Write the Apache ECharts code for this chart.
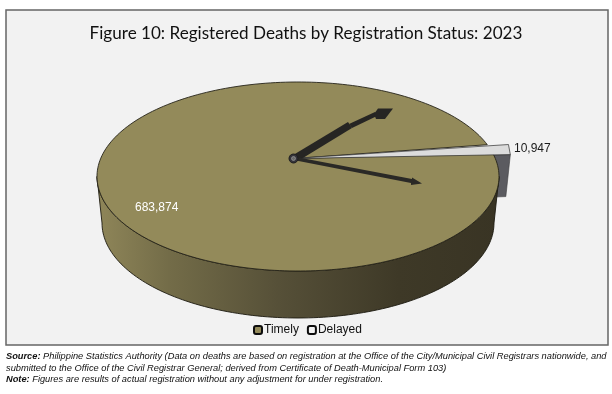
<!DOCTYPE html>
<html><head><meta charset="utf-8">
<style>html,body{margin:0;padding:0;background:#fff}#c{width:612px;height:394px}</style>
<script src="https://cdn.jsdelivr.net/npm/echarts@6/dist/echarts.min.js"></script>
</head><body><div id="c"></div>
<script>
const categories = ['Timely', 'Delayed'];
const values = [683874, 10947];
const titleText = 'Figure 10: Registered Deaths by Registration Status: 2023';

const total = values[0] + values[1];
const sweep = v => v / total * Math.PI * 2;
const fmt = v => v.toLocaleString('en-US');

// layout of the tilted pie
const TOP = {cx: 298, cy: 176.5, rx: 201, ry: 94.5};
const BASE = {cx: 298, cy: 223, rx: 196, ry: 95};
const HUB = [293.5, 158.5];
const SLICE = {rx: 217, ry: 102, start: 2.2 * Math.PI / 180, depth: 42};
const NOTCH = 14 * Math.PI / 180;

const onEllipse = (e, t) => [e.cx + e.rx * Math.cos(t), e.cy - e.ry * Math.sin(t)];
const arc = (e, a, b, n) => {
  const pts = [];
  for (let i = 0; i <= n; i++) pts.push(onEllipse(e, a + (b - a) * i / n));
  return pts;
};

const wallFill = new echarts.graphic.LinearGradient(97, 0, 499, 0, [
  {offset: 0, color: '#8f8659'},
  {offset: 0.18, color: '#736c48'},
  {offset: 0.45, color: '#565038'},
  {offset: 0.75, color: '#3e3927'},
  {offset: 1, color: '#393424'}
], true);

function renderTimely(params, api) {
  const v = api.value(0);
  const s = sweep(v);
  const gap = Math.PI * 2 - s;
  const start = NOTCH + gap;
  const top = arc(TOP, start, start + s, 240);
  const wallTop = arc(TOP, Math.PI, 2 * Math.PI, 120);
  const wallBase = arc(BASE, 2 * Math.PI, Math.PI, 120);
  return {type: 'group', children: [
    {type: 'polygon', shape: {points: wallTop.concat(wallBase)},
      style: {fill: wallFill, stroke: '#1c1a10', lineWidth: 0.9}},
    {type: 'polygon', shape: {points: [HUB].concat(top)},
      style: {fill: '#938a5a', stroke: '#26241a', lineWidth: 0.9}},
    {type: 'text', style: {text: fmt(v), x: 135, y: 208, fill: '#ffffff',
      font: '12px "Liberation Sans"', verticalAlign: 'middle'}}
  ]};
}

function sliceEnds(v) {
  const e = {cx: HUB[0], cy: HUB[1], rx: SLICE.rx, ry: SLICE.ry};
  return [onEllipse(e, SLICE.start), onEllipse(e, SLICE.start + sweep(v))];
}

function renderDelayedSide(params, api) {
  const [p] = sliceEnds(api.value(0));
  const d = SLICE.depth;
  return {type: 'polygon',
    shape: {points: [HUB, p, [p[0] - 4.5, p[1] + d], [HUB[0], HUB[1] + d + 4]]},
    style: {fill: '#5b5b60', stroke: '#3a3a3d', lineWidth: 0.6}};
}

function renderDelayedTop(params, api) {
  const v = api.value(0);
  const [a, b] = sliceEnds(v);
  return {type: 'group', children: [
    {type: 'polygon', shape: {points: [HUB, b, a]},
      style: {fill: '#dcdcdc', stroke: '#2e2e2e', lineWidth: 0.7}},
    {type: 'text', style: {text: fmt(v), x: 514, y: 148.5, fill: '#1a1a1a',
      font: '12px "Liberation Sans"', verticalAlign: 'middle'}}
  ]};
}

const swatch = color => ({color: color, borderColor: '#0d0d0d', borderWidth: 2.5, borderRadius: 2});

const chart = echarts.init(document.getElementById('c'), null, {renderer: 'canvas'});
chart.setOption({
  animation: false,
  backgroundColor: '#ffffff',
  title: {text: titleText, left: 'center', top: 20,
    textStyle: {fontFamily: 'Lato', fontSize: 17.1, fontWeight: 'normal', color: '#111111'}},
  legend: {
    data: categories, left: 248, top: 319, itemWidth: 8, itemHeight: 8, itemGap: 8,
    textStyle: {fontFamily: 'Liberation Sans', fontSize: 12, color: '#111', padding: [0, 0, 0, -3]},
    selectedMode: false
  },
  graphic: [
    {type: 'rect', z: -10, shape: {x: 6, y: 10, width: 602, height: 335},
      style: {fill: '#f2f2f2', stroke: '#666666', lineWidth: 1.5}},
    // pointer marks drawn over the pie face
    {type: 'polygon', z: 20, shape: {points: [[294, 154.5], [348, 122], [352, 128], [298, 161]]},
      style: {fill: '#262523'}},
    {type: 'polygon', z: 20, shape: {points: [[349, 124], [375, 112], [377, 116], [352, 128]]},
      style: {fill: '#262523'}},
    {type: 'polygon', z: 20, shape: {points: [[378, 108.5], [393, 108.5], [385, 119], [376, 119], [374, 114]]},
      style: {fill: '#262523'}},
    {type: 'polygon', z: 20, shape: {points: [[296, 157], [412, 179], [412, 177.5], [422, 183.5], [411, 185], [411, 183], [296, 160.5]]},
      style: {fill: '#2a2926'}},
    {type: 'circle', z: 21, shape: {cx: 293.5, cy: 158.5, r: 4.5},
      style: {fill: '#35343a', stroke: '#1e1e1e', lineWidth: 1}},
    {type: 'circle', z: 22, shape: {cx: 293.5, cy: 158.5, r: 2},
      style: {fill: '#6a6a6a', stroke: '#a5a5a5', lineWidth: 0.6}},
    {type: 'text', z: 5, x: 6, y: 351, style: {
      text: '{b|Source:} Philippine Statistics Authority (Data on deaths are based on registration at the Office of the City/Municipal Civil Registrars nationwide, and\nsubmitted to the Office of the Civil Registrar General; derived from Certificate of Death-Municipal Form 103)\n{b|Note:} Figures are results of actual registration without any adjustment for under registration.',
      font: 'italic 9.27px "Liberation Sans"', fill: '#111', lineHeight: 11.5,
      rich: {b: {font: 'italic bold 9.27px "Liberation Sans"', fill: '#111', lineHeight: 11.5}}
    }}
  ],
  series: [
    {type: 'custom', name: 'Delayed', coordinateSystem: 'none', z: 2, silent: true,
      renderItem: renderDelayedSide, data: [[values[1]]], itemStyle: swatch('#f2f2f2')},
    {type: 'custom', name: 'Timely', coordinateSystem: 'none', z: 3, silent: true,
      renderItem: renderTimely, data: [[values[0]]], itemStyle: swatch('#938a5a')},
    {type: 'custom', name: 'Delayed', coordinateSystem: 'none', z: 4, silent: true,
      renderItem: renderDelayedTop, data: [[values[1]]], itemStyle: swatch('#f2f2f2')}
  ]
});
</script></body></html>
